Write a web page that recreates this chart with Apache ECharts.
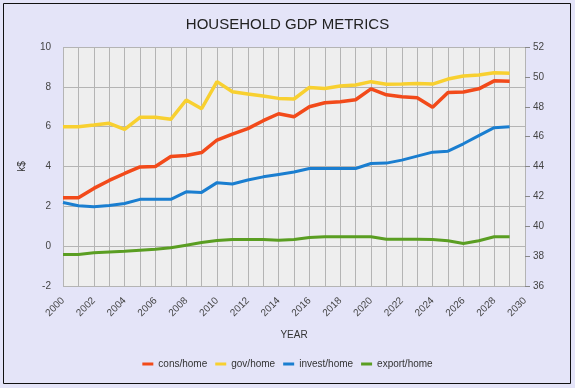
<!DOCTYPE html>
<html><head><meta charset="utf-8">
<script src="https://cdn.jsdelivr.net/npm/echarts@6/dist/echarts.min.js"></script>
<style>html,body{margin:0;padding:0;background:#e4e4f8;}#c{width:575px;height:388px;}</style>
</head><body><div id="c"></div>
<script>
const years = [2000,2001,2002,2003,2004,2005,2006,2007,2008,2009,2010,2011,2012,2013,2014,2015,2016,2017,2018,2019,2020,2021,2022,2023,2024,2025,2026,2027,2028,2029];
const consHome   = [2.43,2.43,2.9,3.3,3.65,3.98,4.0,4.5,4.55,4.7,5.33,5.63,5.9,6.3,6.65,6.5,7.0,7.2,7.25,7.35,7.9,7.6,7.5,7.45,6.97,7.72,7.74,7.9,8.3,8.28];
const govHome    = [6.0,6.0,6.08,6.17,5.86,6.47,6.47,6.37,7.34,6.9,8.26,7.75,7.64,7.54,7.42,7.39,7.97,7.92,8.04,8.09,8.26,8.13,8.14,8.17,8.14,8.39,8.54,8.59,8.71,8.68];
const investHome = [2.19,2.03,1.98,2.04,2.14,2.35,2.35,2.35,2.73,2.7,3.19,3.12,3.32,3.48,3.6,3.72,3.9,3.9,3.9,3.9,4.15,4.17,4.32,4.52,4.72,4.77,5.14,5.55,5.95,6.0];
const exportHome = [-0.42,-0.42,-0.33,-0.29,-0.25,-0.2,-0.15,-0.08,0.05,0.18,0.28,0.33,0.33,0.33,0.3,0.33,0.44,0.47,0.47,0.47,0.47,0.35,0.35,0.35,0.33,0.27,0.13,0.27,0.47,0.47];
const seriesNames = ['cons/home','gov/home','invest/home','export/home'];
const seriesColors = ['#f24a1a','#f8d030','#1a7ed0','#5a9e22'];

const pairs = v => years.map((y,i)=>[y,v[i]]);
const allData = [consHome, govHome, investHome, exportHome];
const widths = [3.5,3.5,3,3];

const chart = echarts.init(document.getElementById('c'), null, {renderer:'canvas'});
const font = 'Liberation Sans, Arial, sans-serif';
chart.setOption({
  backgroundColor:'#e4e4f8',
  animation:false,
  title:{text:'HOUSEHOLD GDP METRICS', left:'center', top:12,
    textStyle:{fontFamily:font, fontSize:15, fontWeight:'normal', color:'#222'}},
  graphic:[{type:'rect', shape:{x:3.5,y:3.5,width:567,height:380}, style:{fill:null, stroke:'#111', lineWidth:1}, z:100}],
  legend:{bottom:14, left:'center', itemWidth:11, itemHeight:3, itemGap:8,
    icon:'rect',
    textStyle:{fontFamily:font, fontSize:10, color:'#333'},
    data:seriesNames},
  grid:{left:63, right:50, top:47, bottom:102, show:true, backgroundColor:'#eeeeee', borderWidth:0},
  xAxis:{type:'value', min:2000, max:2030, interval:1,
    name:'YEAR', nameLocation:'middle', nameGap:44,
    nameTextStyle:{fontFamily:font, fontSize:10, color:'#333'},
    axisLine:{show:false}, axisTick:{show:false},
    axisLabel:{rotate:45, margin:13, fontFamily:font, fontSize:10, color:'#444',
      formatter:v=> (v%2===0 ? String(v) : '')},
    splitLine:{show:true, lineStyle:{color:'#b4b4b4', width:1}}},
  yAxis:[
    {type:'value', min:-2, max:10, interval:2, position:'left',
      name:'k$', nameLocation:'middle', nameGap:36,
      nameTextStyle:{fontFamily:font, fontSize:10, color:'#333'},
      axisLine:{show:false}, axisTick:{show:false},
      axisLabel:{margin:12, fontFamily:font, fontSize:10, color:'#444'},
      splitLine:{show:true, lineStyle:{color:'#b4b4b4', width:1}}},
    {type:'value', min:36, max:52, interval:2, position:'right',
      axisLine:{show:false}, axisTick:{show:true, length:5, lineStyle:{color:'#888'}},
      axisLabel:{margin:8, fontFamily:font, fontSize:10, color:'#444'},
      splitLine:{show:false}}
  ],
  series: seriesNames.map((n,i)=>({
    name:n, type:'line', yAxisIndex:0, data:pairs(allData[i]),
    showSymbol:false, symbol:'none',
    lineStyle:{color:seriesColors[i], width:widths[i]},
    itemStyle:{color:seriesColors[i]}
  }))
});
</script></body></html>
